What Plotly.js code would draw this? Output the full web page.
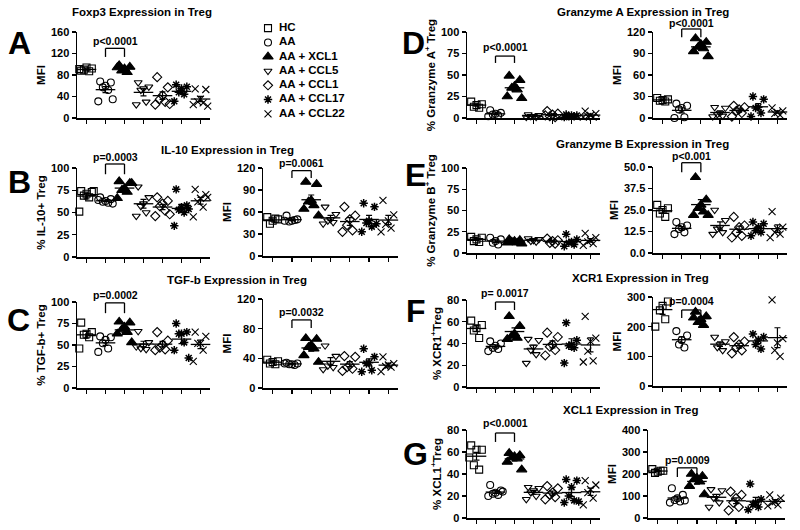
<!DOCTYPE html>
<html>
<head>
<meta charset="utf-8">
<script src="https://cdn.plot.ly/plotly-3.0.1.min.js"></script>
<style>
  html, body { margin: 0; padding: 0; background: #fff; }
  #chart { width: 800px; height: 530px; }
</style>
</head>
<body>
<div id="chart"></div>
<script>
// Treg expression panels (A-G), one column of points per treatment group

const groups = ['HC', 'AA', 'AA + XCL1', 'AA + CCL5', 'AA + CCL1', 'AA + CCL17', 'AA + CCL22'];

// values per group
const foxp3Mfi = [
    [88, 92, 94, 90, 87, 91],
    [68, 66, 60, 57, 52, 31, 35],
    [98, 95, 92, 88, 85, 94],
    [66, 58, 55, 52, 30, 25],
    [76, 57, 42, 35, 30, 25, 26],
    [62, 58, 55, 48, 44, 31],
    [54, 53, 35, 30, 28, 25, 22]
];
const il10Pct = [
    [74, 73, 71, 69, 67, 51, 74],
    [67, 65, 63, 62, 61, 64, 60],
    [85, 83, 77, 75, 73, 66, 83],
    [79, 67, 60, 57, 50, 46],
    [67, 63, 60, 57, 52, 46, 48],
    [76, 58, 56, 53, 50, 35, 54],
    [76, 70, 66, 62, 56, 45, 67]
];
const il10Mfi = [
    [53, 50, 48, 44, 51],
    [55, 50, 48, 47, 49, 48],
    [101, 98, 76, 74, 69, 64, 55],
    [67, 57, 50, 48, 46, 44],
    [67, 55, 50, 42, 35, 33],
    [72, 67, 48, 45, 40, 33, 44],
    [76, 56, 48, 43, 38, 33]
];
const tgfbPct = [
    [76, 65, 63, 62, 59, 46],
    [60, 59, 56, 52, 46, 42],
    [77, 76, 71, 68, 65, 63, 53],
    [66, 53, 49, 46, 45, 48],
    [65, 55, 50, 47, 45, 44],
    [75, 65, 63, 63, 53, 44, 35],
    [65, 60, 52, 52, 44, 31]
];
const tgfbMfi = [
    [38, 36, 35, 33, 32],
    [34, 33, 32, 32, 31, 33],
    [67, 66, 58, 55, 53, 44, 35],
    [57, 43, 33, 30, 28, 25],
    [43, 42, 31, 28, 26, 23],
    [53, 42, 34, 33, 24, 22],
    [42, 33, 31, 29, 28, 22]
];
const gzmaPct = [
    [19, 16, 15, 13, 12],
    [9, 6, 5, 4, 3, 2],
    [49, 44, 37, 35, 33, 25, 23],
    [4, 3, 2, 2, 1, 1],
    [8, 5, 4, 2, 1, 3],
    [4, 3, 3, 2, 2, 1],
    [8, 5, 3, 2, 1, 1]
];
const gzmaMfi = [
    [28, 26, 25, 24, 23],
    [20, 17, 14, 12, 1, 0],
    [111, 106, 103, 99, 97, 93, 86],
    [15, 14, 7, 5, 3, 2],
    [17, 15, 12, 10, 7, 2],
    [30, 26, 15, 14, 7, 2],
    [14, 10, 8, 6, 4]
];
const gzmbPct = [
    [19, 18, 16, 14, 13],
    [18, 16, 14, 12, 10],
    [16, 15, 14, 13, 12, 12, 11],
    [17, 16, 15, 14, 13],
    [17, 15, 14, 12, 11],
    [22, 16, 13, 12, 10, 8],
    [23, 18, 15, 13, 11, 9]
];
const gzmbMfi = [
    [28, 26, 25, 23, 21],
    [18, 16, 15, 14, 12, 11],
    [44, 31, 28, 26, 24, 22, 22],
    [25, 19, 15, 14, 12, 11],
    [21, 16, 15, 12, 10, 9],
    [18, 17, 15, 13, 12, 10],
    [24, 15, 14, 12, 11, 9]
];
const xcr1Pct = [
    [61, 57, 54, 52, 45],
    [42, 40, 38, 36, 35, 33],
    [65, 56, 49, 47, 45, 44],
    [44, 43, 37, 34, 30, 22],
    [50, 46, 39, 37, 34, 29],
    [59, 43, 39, 38, 36, 22],
    [65, 45, 42, 33, 24, 23]
];
const xcr1Mfi = [
    [310, 285, 270, 255, 225, 200],
    [185, 170, 155, 140, 130],
    [250, 235, 225, 215, 205, 230],
    [165, 150, 140, 130, 120],
    [165, 150, 140, 130, 120, 110],
    [175, 165, 155, 140, 125],
    [290, 160, 145, 120, 100]
];
const xcl1Pct = [
    [66, 62, 62, 48, 44, 55],
    [30, 25, 23, 22, 21, 20, 24],
    [59, 57, 56, 55, 54, 51, 44],
    [28, 27, 25, 23, 20, 17],
    [29, 27, 23, 21, 19, 17],
    [35, 34, 28, 20, 16, 14, 15],
    [34, 30, 26, 23, 18, 12]
];
const xcl1Mfi = [
    [222, 215, 210, 205, 215],
    [135, 105, 90, 82, 75, 70, 80],
    [200, 190, 182, 175, 165, 145, 107],
    [130, 125, 100, 90, 70, 50],
    [120, 105, 90, 70, 50, 35],
    [155, 85, 70, 60, 50, 38],
    [105, 90, 75, 70, 60, 55]
];

const pValues = ['p<0.0001', 'p=0.0003', 'p=0.0061', 'p=0.0002', 'p=0.0032', 'p<0.0001',
    'p<0.0001', 'p<0.001', 'p= 0.0017', 'p=0.0004', 'p<0.0001', 'p=0.0009'];

// marker style per group
const symbols = ['square-open', 'circle-open', 'triangle-up', 'triangle-down-open',
    'diamond-open', 'asterisk-open', 'x-thin-open'];
const sizes = [7, 7, 9, 7, 7, 7, 7];
const spread = [-0.28, 0.28, 0, -0.14, 0.14, -0.38, 0.38];

const W = 800, H = 530;
const FONT = 'Liberation Sans, Arial, sans-serif';

// pixel boxes: x = [left, right], y = [top, bottom]; br = bracket [top, leg, text] in y-domain units
const panels = [
    { data: foxp3Mfi, ymax: 160, dtick: 40, x: [77, 210], y: [32, 118], ytitle: 'MFI', p: 0, br: [0.81, 0.71, 0.89] },
    { data: il10Pct, ymax: 100, dtick: 25, x: [77, 210], y: [168, 257], ytitle: '% IL-10+ Treg', p: 1, br: [1.045, 0.93, 1.125] },
    { data: il10Mfi, ymax: 120, dtick: 30, x: [263, 398], y: [168, 256], ytitle: 'MFI', p: 2, br: [0.97, 0.885, 1.06] },
    { data: tgfbPct, ymax: 100, dtick: 25, x: [77, 210], y: [302, 388], ytitle: '% TGF-b+ Treg', p: 3, br: [0.99, 0.87, 1.08] },
    { data: tgfbMfi, ymax: 120, dtick: 40, x: [263, 398], y: [299, 388], ytitle: 'MFI', p: 4, br: [0.765, 0.675, 0.855] },
    { data: gzmaPct, ymax: 100, dtick: 25, x: [467, 600], y: [32, 118], ytitle: '% Granzyme A<sup>+</sup> Treg', p: 5, br: [0.72, 0.64, 0.83] },
    { data: gzmaMfi, ymax: 120, dtick: 30, x: [653, 787], y: [32, 118], ytitle: 'MFI', p: 6, br: [1.035, 0.94, 1.11] },
    { data: gzmbPct, ymax: 100, dtick: 25, x: [467, 600], y: [168, 253], ytitle: '% Granzyme B<sup>+</sup> Treg', p: -1 },
    { data: gzmbMfi, ymax: 50, dtick: 12.5, x: [653, 787], y: [167, 253], ytitle: 'MFI', p: 7, br: [1.05, 0.94, 1.125], fmt: '.1f' },
    { data: xcr1Pct, ymax: 80, dtick: 20, x: [467, 600], y: [300, 387], ytitle: '% XCR1<sup>+</sup>Treg', p: 8, br: [0.977, 0.885, 1.08] },
    { data: xcr1Mfi, ymax: 300, dtick: 100, x: [653, 787], y: [297, 386], ytitle: 'MFI', p: 9, br: [0.854, 0.764, 0.955] },
    { data: xcl1Pct, ymax: 80, dtick: 20, x: [467, 600], y: [430, 518], ytitle: '% XCL1<sup>+</sup>Treg', p: 10, br: [0.966, 0.864, 1.08] },
    { data: xcl1Mfi, ymax: 400, dtick: 100, x: [648, 785], y: [430, 518], ytitle: 'MFI', p: 11, br: [0.57, 0.466, 0.655] }
];

const mean = a => a.reduce((s, v) => s + v, 0) / a.length;
const sem = a => {
    const m = mean(a);
    const sd = Math.sqrt(a.reduce((s, v) => s + (v - m) * (v - m), 0) / (a.length - 1));
    return sd / Math.sqrt(a.length);
};

const traces = [];
const layout = {
    width: W, height: H,
    margin: { l: 0, r: 0, t: 0, b: 0 },
    paper_bgcolor: '#fff',
    plot_bgcolor: 'rgba(0,0,0,0)',
    font: { family: FONT, color: '#000', size: 11, weight: 'bold' },
    showlegend: false,
    shapes: [],
    annotations: []
};

panels.forEach((pn, i) => {
    const n = i + 1;
    const xa = n === 1 ? 'x' : 'x' + n;
    const ya = n === 1 ? 'y' : 'y' + n;

    layout['xaxis' + (n === 1 ? '' : n)] = {
        domain: [pn.x[0] / W, pn.x[1] / W],
        anchor: ya,
        range: [-0.5, 6.5],
        showline: true, linecolor: '#000', linewidth: 1.5,
        ticks: 'outside', ticklen: 4, tickwidth: 1.2, tickcolor: '#000',
        tickvals: groups.map((g, k) => k),
        showticklabels: false, showgrid: false, zeroline: false, fixedrange: true
    };
    layout['yaxis' + (n === 1 ? '' : n)] = {
        domain: [1 - pn.y[1] / H, 1 - pn.y[0] / H],
        anchor: xa,
        range: [0, pn.ymax],
        tick0: 0, dtick: pn.dtick,
        tickformat: pn.fmt || '',
        showline: true, linecolor: '#000', linewidth: 1.5,
        ticks: 'outside', ticklen: 4, tickwidth: 1.2, tickcolor: '#000',
        tickfont: { family: FONT, size: 11, weight: 'bold' },
        showgrid: false, zeroline: false, fixedrange: true,
        title: { text: pn.ytitle, standoff: 3, font: { family: FONT, size: 11.5, weight: 'bold' } }
    };

    // individual points
    pn.data.forEach((vals, g) => {
        traces.push({
            type: 'scatter', mode: 'markers',
            x: vals.map((v, k) => g + spread[k % spread.length]),
            y: vals,
            xaxis: xa, yaxis: ya,
            cliponaxis: false,
            marker: {
                symbol: symbols[g], size: sizes[g], color: '#000',
                line: { color: '#000', width: g === 5 ? 1.5 : 1.1 }
            },
            hoverinfo: 'y'
        });
    });

    // mean +/- SEM
    traces.push({
        type: 'scatter', mode: 'markers',
        x: groups.map((g, k) => k),
        y: pn.data.map(mean),
        xaxis: xa, yaxis: ya,
        cliponaxis: false,
        marker: { symbol: 'line-ew-open', size: 14, color: '#000', line: { color: '#000', width: 1.3 } },
        error_y: { type: 'data', array: pn.data.map(sem), visible: true, color: '#000', thickness: 1.2, width: 3 },
        hoverinfo: 'skip'
    });

    // significance bracket between AA and AA + XCL1
    if (pn.p >= 0) {
        const [top, leg, txt] = pn.br;
        const seg = (x0, y0, x1, y1) => ({
            type: 'line', xref: xa, yref: ya + ' domain',
            x0, y0, x1, y1, line: { color: '#000', width: 1.3 }
        });
        layout.shapes.push(seg(1, leg, 1, top), seg(1, top, 2, top), seg(2, top, 2, leg));
        layout.annotations.push({
            xref: xa, yref: ya + ' domain', x: 1.5, y: txt,
            text: pValues[pn.p], showarrow: false, yanchor: 'middle',
            font: { family: FONT, size: 10.5, weight: 'bold' }
        });
    }
});

// panel titles and letters (pixel positions)
const titles = [
    ['Foxp3 Expression in Treg', 142, 12],
    ['IL-10 Expression in Treg', 227, 150],
    ['TGF-b Expression in Treg', 237, 280],
    ['Granzyme A Expression in Treg', 643, 12],
    ['Granzyme B Expression in Treg', 642, 144],
    ['XCR1 Expression in Treg', 640, 278],
    ['XCL1 Expression in Treg', 630, 410]
];
titles.forEach(([t, px, py]) => layout.annotations.push({
    xref: 'paper', yref: 'paper', x: px / W, y: 1 - py / H,
    text: t, showarrow: false, xanchor: 'center', yanchor: 'middle',
    font: { family: FONT, size: 11.5, weight: 'bold' }
}));

const letters = [['A', 19, 43], ['B', 19, 182], ['C', 18, 320], ['D', 413, 43],
    ['E', 415, 175], ['F', 416, 311], ['G', 415, 454]];
letters.forEach(([t, px, py]) => layout.annotations.push({
    xref: 'paper', yref: 'paper', x: px / W, y: 1 - py / H,
    text: t, showarrow: false, xanchor: 'center', yanchor: 'middle',
    font: { family: FONT, size: 32, weight: 'bold' }
}));

// group key drawn on its own hidden axes
const kx = 'x14', ky = 'y14';
layout.xaxis14 = { domain: [260 / W, 380 / W], anchor: ky, range: [0, 12], visible: false, fixedrange: true };
layout.yaxis14 = { domain: [1 - 121 / H, 1 - 21 / H], anchor: kx, range: [6.5, -0.5], visible: false, fixedrange: true };
groups.forEach((g, k) => {
    traces.push({
        type: 'scatter', mode: 'markers', x: [0.8], y: [k], xaxis: kx, yaxis: ky,
        marker: { symbol: symbols[k], size: sizes[k], color: '#000', line: { color: '#000', width: k === 5 ? 1.5 : 1.1 } },
        hoverinfo: 'skip'
    });
});
traces.push({
    type: 'scatter', mode: 'text', x: groups.map(() => 1.9), y: groups.map((g, k) => k),
    xaxis: kx, yaxis: ky, text: groups, textposition: 'middle right',
    textfont: { family: FONT, size: 11.5, weight: 'bold', color: '#000' },
    hoverinfo: 'skip'
});

Plotly.newPlot('chart', traces, layout, { displayModeBar: false, staticPlot: true });
</script>
</body>
</html>
